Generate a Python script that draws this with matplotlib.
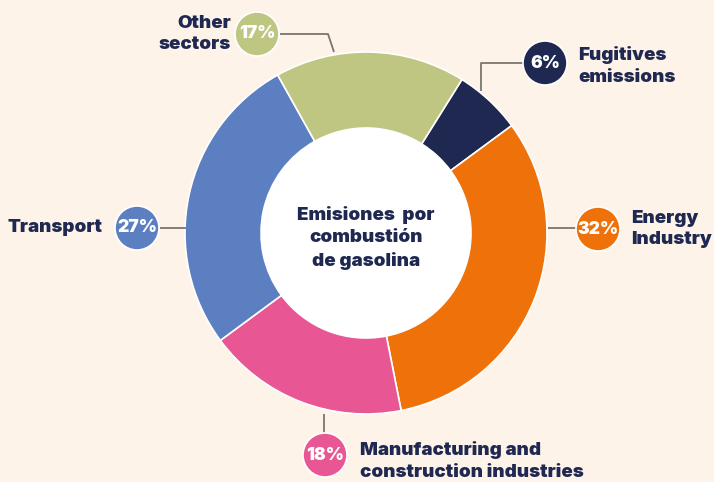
import matplotlib
matplotlib.use("Agg")
import matplotlib.pyplot as plt
from matplotlib.patches import Circle

# Emission shares by sector (clockwise from the top-right)
sectors = ["Fugitives\nemissions", "Energy\nIndustry",
           "Manufacturing and\nconstruction industries", "Transport",
           "Other\nsectors"]
shares = [6, 32, 18, 27, 17]
colors = ["#1f2850", "#ee7209", "#e85794", "#5b7fc1", "#bfc681"]
center_title = "Emisiones  por\ncombustión\nde gasolina"

BG = "#fdf3e9"
NAVY = "#1f2850"
W, H = 714, 482

plt.rcParams["font.family"] = ["Inter", "DejaVu Sans"]

fig = plt.figure(figsize=(W / 100, H / 100), dpi=100, facecolor=BG)
ax = fig.add_axes([0, 0, 1, 1])
ax.set_xlim(0, W)
ax.set_ylim(0, H)
ax.set_aspect("equal")
ax.axis("off")
ax.set_facecolor(BG)


def Y(y):
    return H - y


cx, cy = 366, Y(233)
R_out, R_in = 181, 105

ax.pie(shares, colors=colors, startangle=58, counterclock=False,
       center=(cx, cy), radius=R_out,
       wedgeprops=dict(width=R_out - R_in, edgecolor="white", linewidth=1.2))
ax.add_patch(Circle((cx, cy), R_in, facecolor="white", edgecolor="none", zorder=3))
ax.set_xlim(0, W)
ax.set_ylim(0, H)

ax.text(cx, cy - 5, center_title, ha="center", va="center", color=NAVY,
        fontsize=13.5, fontweight="black", linespacing=1.38, zorder=4)

LINE = "#7a7570"

# callout connectors (pixel coordinates of the layout)
connectors = [
    [(523, 63), (481, 63), (481, 91)],       # Fugitives
    [(548, 228), (576, 228)],                # Energy
    [(324, 433), (324, 414)],                # Manufacturing
    [(160, 228), (186, 228)],                # Transport
    [(280, 34), (328, 34), (334, 52)],       # Other
]
for pts in connectors:
    xs = [p[0] for p in pts]
    ys = [Y(p[1]) for p in pts]
    ax.plot(xs, ys, color=LINE, lw=1.3, zorder=1, solid_capstyle="butt")

# badge centres and label anchors
badges = [(545, 63), (598, 229), (325, 455), (137, 228), (257, 34)]
label_pos = [(578, 66, "left"), (631, 229, "left"), (360, 461, "left"),
             (103, 228, "right"), (231, 34, "right")]

for share, col, (bx, by), (lx, ly, ha), name in zip(
        shares, colors, badges, label_pos, sectors):
    ax.add_patch(Circle((bx, Y(by)), 22, facecolor=col, edgecolor="white",
                        linewidth=1.2, zorder=5))
    ax.text(bx, Y(by), f"{share}%", ha="center", va="center", color="white",
            fontsize=12.5, fontweight="black", zorder=6)
    ax.text(lx, Y(ly), name, ha=ha, va="center", color=NAVY, fontsize=13.5,
            fontweight="black", linespacing=1.38, zorder=6,
            multialignment=ha)

fig.savefig("out.png", dpi=100, facecolor=BG)
